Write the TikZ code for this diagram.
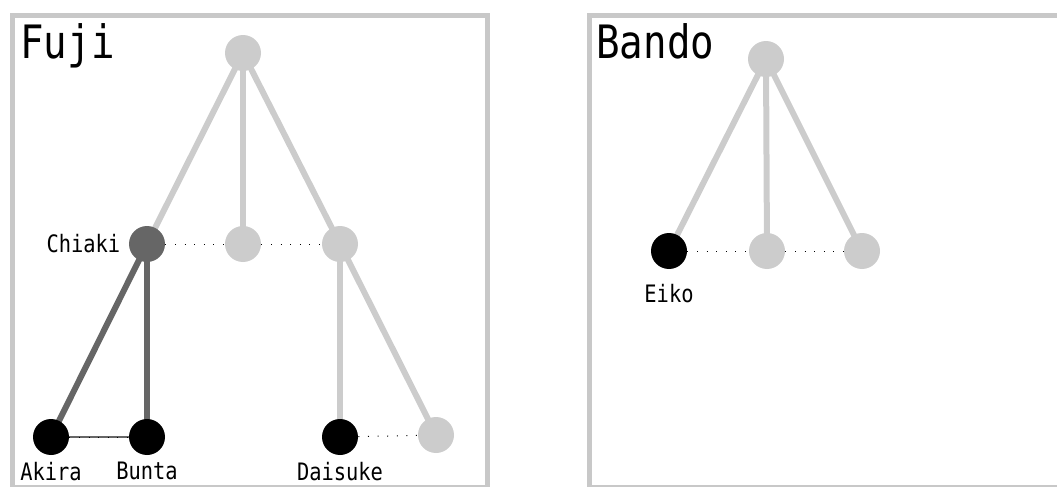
\documentclass[tikz,border=0pt]{standalone}
\usepackage{fontspec}
\newfontfamily\narrowmono[FakeStretch=0.85]{DejaVu Sans Mono}
\usetikzlibrary{positioning, backgrounds}
\definecolor{frameGray}{HTML}{C8C8C8}
\definecolor{ghostGray}{HTML}{CCCCCC}
\definecolor{linkDark}{HTML}{666666}
\newcommand{\famfont}{\narrowmono\fontsize{23}{26}\selectfont}
\newcommand{\namefont}{\narrowmono\fontsize{12}{14}\selectfont}

\begin{document}
\begin{tikzpicture}[x=0.5pt, y=-0.5pt,
    person/.style={circle, minimum size=18pt, inner sep=0pt},
    ghost/.style={person, fill=ghostGray},
    known/.style={person, fill=black},
    parent/.style={person, fill=linkDark},
    paleline/.style={line width=3pt, ghostGray},
    darkline/.style={line width=3pt, linkDark},
    sibling/.style={black, line width=0.5pt, dash pattern=on 0.5pt off 4.3pt},
    nametag/.style={font=\namefont, inner sep=1pt},
    famtag/.style={font=\famfont, anchor=base west, inner sep=0pt}
]
    \useasboundingbox (0,0) rectangle (1057,487);

    % --- FRAMES ---
    \draw[frameGray, line width=2.5pt] (12,15) rectangle (487,487);
    \draw[frameGray, line width=2.5pt] (589,15) rectangle (1060,487);
    \node[famtag] (fuji) at (20,58) {Fuji};
    \node[famtag] (bando) at (596,58) {Bando};

    % --- FUJI TREE ---
    \node[ghost] (froot) at (243,53) {};
    \node[parent] (chiaki) at (147,244) {};
    \node[ghost] (fmid) at (243,244) {};
    \node[ghost] (fright) at (340,244) {};
    \node[known] (akira) at (51,437) {};
    \node[known] (bunta) at (147,437) {};
    \node[known] (daisuke) at (340,437) {};
    \node[ghost] (fleaf) at (436,435) {};

    \begin{scope}[on background layer]
        \foreach \kid in {chiaki, fmid, fright}
            \draw[paleline] (froot.center) -- (\kid.center);
        \foreach \kid in {akira, bunta}
            \draw[darkline] (chiaki.center) -- (\kid.center);
        \foreach \kid in {daisuke, fleaf}
            \draw[paleline] (fright.center) -- (\kid.center);
    \end{scope}

    \draw[sibling] (chiaki) -- (fmid);
    \draw[sibling] (fmid) -- (fright);
    \draw[sibling] (daisuke) -- (fleaf);
    \draw[linkDark, line width=0.8pt] (akira) -- (bunta);
    \draw[sibling] (akira) -- (bunta);

    \node[nametag, left=3pt of chiaki] (chiakiname) {Chiaki};
    \node[nametag, below=2pt of akira] (akiraname) {Akira};
    \node[nametag, below=2pt of bunta] (buntaname) {Bunta};
    \node[nametag, below=2pt of daisuke] (daisukename) {Daisuke};

    % --- BANDO TREE ---
    \node[ghost] (broot) at (766,59) {};
    \node[known] (eiko) at (669,251) {};
    \node[ghost] (bmid) at (767,251) {};
    \node[ghost] (bright) at (862,251) {};

    \begin{scope}[on background layer]
        \foreach \kid in {eiko, bmid, bright}
            \draw[paleline] (broot.center) -- (\kid.center);
    \end{scope}

    \draw[sibling] (eiko) -- (bmid);
    \draw[sibling] (bmid) -- (bright);

    \node[nametag, below=6pt of eiko] (eikoname) {Eiko};
\end{tikzpicture}
\end{document}
